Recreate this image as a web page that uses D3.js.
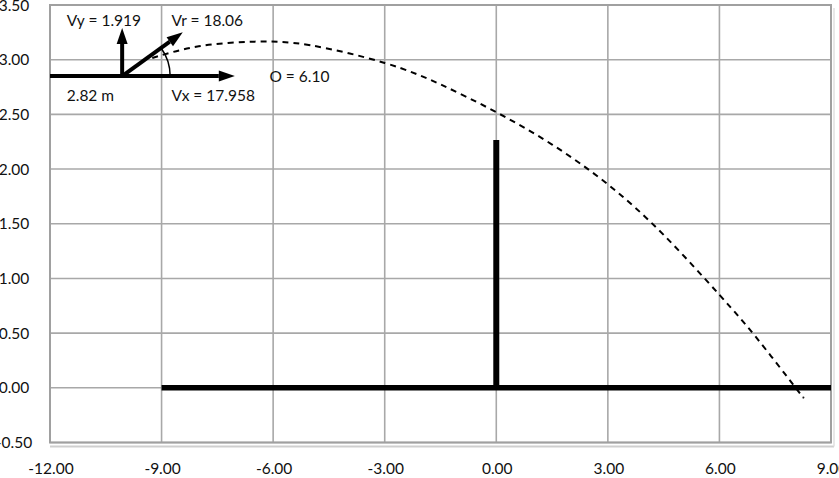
<!DOCTYPE html>
<html>
<head>
<meta charset="utf-8">
<script src="https://cdn.jsdelivr.net/npm/d3@7/dist/d3.min.js"></script>
<style>
  html, body { margin: 0; padding: 0; background: #fff; }
  svg { display: block; }
  text { font-family: Lato, "Open Sans", sans-serif; fill: #111; }
</style>
</head>
<body>
<svg id="chart" width="839" height="478"></svg>
<script>
// ---- data ----
const xTicks = [-12, -9, -6, -3, 0, 3, 6, 9];
const yTicks = [-0.5, 0, 0.5, 1, 1.5, 2, 2.5, 3, 3.5];

// dashed trajectory
const trajX = [-9.25, -8.0, -6.5, -5.0, -3.0, -1.5, 0, 1.5, 3.0, 4.5, 6.0, 7.0, 8.05, 8.25];
const trajY = [3.015, 3.122, 3.165, 3.132, 2.97, 2.774, 2.52, 2.224, 1.86, 1.398, 0.85, 0.456, 0.0, -0.085];

// court (ground) and net
const groundX = [-9, 9];
const groundY = [0, 0];
const netX = [0, 0];
const netY = [0, 2.265];

// launch point and velocity vectors (data units)
const launchX = -10.06;
const launchY = 2.85;
const vxTipX = -7.03;
const vyTipY = 3.29;
const vrTip = [-8.43, 3.25];

const labels = ["Vy = 1.919", "Vr = 18.06", "2.82 m", "Vx = 17.958", "O = 6.10"];
const labelX = [-11.55, -8.73, -11.55, -8.73, -6.10];
const labelY = [3.308, 3.308, 2.618, 2.618, 2.80];

// ---- layout ----
(function () {
const svg = d3.select("#chart");
const pL = 50, pR = 831, pT = 5, pB = 442.5;
const x = d3.scaleLinear().domain([-12, 9]).range([pL, pR]);
const y = d3.scaleLinear().domain([-0.5, 3.5]).range([pB, pT]);
const fmt = v => v.toFixed(2);

svg.append("rect").attr("width", 839).attr("height", 478).attr("fill", "#fff");

// shadow under plot
svg.append("line").attr("x1", pL).attr("x2", pR + 3).attr("y1", pB + 4).attr("y2", pB + 4)
  .attr("stroke", "#cfcfcf").attr("stroke-width", 2);
svg.append("line").attr("x1", pR + 3).attr("x2", pR + 3).attr("y1", pT + 3).attr("y2", pB + 4)
  .attr("stroke", "#e0e0e0").attr("stroke-width", 1.5);

const grid = svg.append("g");
grid.selectAll("line.v").data(xTicks).join("line").attr("class", "v")
  .attr("x1", d => x(d)).attr("x2", d => x(d)).attr("y1", pT).attr("y2", pB)
  .attr("stroke", "#a8a8a8").attr("stroke-width", 1.6);
grid.selectAll("line.h").data(yTicks).join("line").attr("class", "h")
  .attr("x1", pL).attr("x2", pR).attr("y1", d => y(d)).attr("y2", d => y(d))
  .attr("stroke", "#a8a8a8").attr("stroke-width", 1.6);
svg.append("rect").attr("x", pL).attr("y", pT).attr("width", pR - pL).attr("height", pB - pT)
  .attr("fill", "none").attr("stroke", "#a0a0a0").attr("stroke-width", 2);

// axis labels
svg.append("g").selectAll("text").data(yTicks).join("text")
  .attr("x", 14).attr("y", d => y(d)).attr("dy", "0.36em")
  .attr("text-anchor", "middle").attr("font-size", 15.5).text(fmt);
svg.append("g").selectAll("text").data(xTicks).join("text")
  .attr("x", d => x(d) + 1).attr("y", 474)
  .attr("text-anchor", "middle").attr("font-size", 15.5).text(fmt);

// ground and net
const line2 = (xs, ys) => d3.line().x((d, i) => x(xs[i])).y((d, i) => y(ys[i]))(xs);
svg.append("path").attr("d", line2(groundX, groundY)).attr("stroke", "#000").attr("stroke-width", 5.5).attr("fill", "none");
svg.append("path").attr("d", line2(netX, netY)).attr("stroke", "#000").attr("stroke-width", 6).attr("fill", "none");

// trajectory
const traj = trajX.map((v, i) => [v, trajY[i]]);
svg.append("path")
  .attr("d", d3.line().x(d => x(d[0])).y(d => y(d[1])).curve(d3.curveNatural)(traj))
  .attr("fill", "none").attr("stroke", "#000").attr("stroke-width", 2)
  .attr("stroke-dasharray", "6,5");

// vectors
const ox = x(launchX), oy = y(launchY);
function arrow(x0, y0, x1, y1, sw) {
  const ang = Math.atan2(y1 - y0, x1 - x0);
  const hl = 16, hw = 5.5;
  const bx = x1 - hl * Math.cos(ang), by = y1 - hl * Math.sin(ang);
  svg.append("line").attr("x1", x0).attr("y1", y0).attr("x2", bx).attr("y2", by)
    .attr("stroke", "#000").attr("stroke-width", sw);
  const px = -Math.sin(ang), py = Math.cos(ang);
  svg.append("path")
    .attr("d", `M${x1},${y1}L${bx + px * hw},${by + py * hw}L${bx - px * hw},${by - py * hw}Z`)
    .attr("fill", "#000");
}
arrow(x(-12), oy, x(vxTipX), oy, 4);
arrow(ox, oy, ox, y(vyTipY), 4);
arrow(ox, oy, x(vrTip[0]), y(vrTip[1]), 4);

// angle arc
const vrAng = Math.atan2(oy - y(vrTip[1]), x(vrTip[0]) - ox);
const r = 48;
svg.append("path")
  .attr("d", `M${ox + r},${oy} A${r},${r} 0 0 0 ${ox + r * Math.cos(vrAng)},${oy - r * Math.sin(vrAng)}`)
  .attr("fill", "none").attr("stroke", "#000").attr("stroke-width", 1.5);

// labels
svg.append("g").selectAll("text").data(labels).join("text")
  .attr("x", (d, i) => x(labelX[i])).attr("y", (d, i) => y(labelY[i]))
  .attr("font-size", 15.5).text(d => d);
})();
</script>
</body>
</html>
